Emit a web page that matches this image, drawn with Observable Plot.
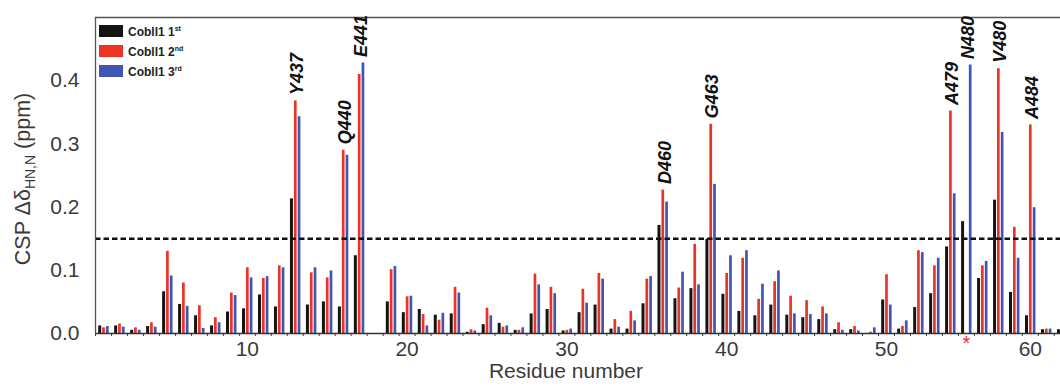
<!DOCTYPE html>
<html><head><meta charset="utf-8">
<script src="https://cdn.jsdelivr.net/npm/d3@7"></script>
<script src="https://cdn.jsdelivr.net/npm/@observablehq/plot@0.6"></script>
<style>
html,body{margin:0;padding:0;background:#fff;}
#chart svg{display:block;}
</style></head><body><div id="chart"></div>
<script>
// ---- data ----
const residues = d3.range(1, 62);
const cobll1_1st = [0.012,0.012,0.005,0.011,0.066,0.046,0.028,0.012,0.034,0.039,
  0.061,0.042,0.213,0.045,0.050,0.042,0.123,null,0.050,0.033,
  0.038,0.029,0.031,0.002,0.014,0.016,0.005,0.031,0.038,0.004,
  0.033,0.045,0.007,0.007,0.047,0.171,0.055,0.071,0.149,0.062,
  0.035,0.028,0.045,0.029,0.025,0.022,0.006,0.006,null,0.053,
  0.007,0.041,0.063,0.137,0.177,0.087,0.211,0.065,0.028,0.006,0.006];
const cobll1_2nd = [0.009,0.015,0.009,0.017,0.130,0.080,0.044,0.025,0.064,0.104,
  0.087,0.107,0.368,0.096,0.088,0.290,0.410,null,0.101,0.058,
  0.030,0.021,0.073,0.006,0.040,0.010,0.005,0.094,0.073,0.005,
  0.070,0.095,0.022,0.035,0.086,0.227,0.072,0.141,0.331,0.095,
  0.119,0.054,0.082,0.059,0.052,0.042,0.017,0.011,0.002,0.093,
  0.011,0.131,0.107,0.352,null,0.107,0.419,0.168,0.330,0.007,0.006];
const cobll1_3rd = [0.011,0.010,0.005,0.010,0.091,0.043,0.008,0.017,0.060,0.088,
  0.090,0.104,0.343,0.104,0.099,0.282,0.428,null,0.106,0.059,
  0.012,0.032,0.064,0.004,0.028,0.012,0.009,0.077,0.063,0.007,
  0.048,0.086,0.010,0.020,0.090,0.208,0.097,0.077,0.236,0.123,
  0.131,0.078,0.099,0.031,0.030,0.031,0.005,0.004,0.009,0.045,
  0.020,0.128,0.119,0.221,0.425,0.114,0.318,0.119,0.199,0.007,0.006];
const seriesBase = ["Cobll1 1", "Cobll1 2", "Cobll1 3"];
const seriesOrdinal = ["st", "nd", "rd"];
const seriesColors = ["#141414", "#ec3325", "#3f56b5"];
const threshold = [0.15];
const yTicks = [0, 0.1, 0.2, 0.3, 0.4];
const xTickPositions = [10, 20, 30, 40, 50, 59];
const xTickLabels = ["10", "20", "30", "40", "50", "60"];
const markedResidues = [55];
const peakResidues = [13, 16, 17, 36, 39, 54, 55, 57, 59];
const peakNames = ["Y437", "Q440", "E441", "D460", "G463", "A479", "N480", "V480", "A484"];

// ---- derived tables ----
const seriesValues = [cobll1_1st, cobll1_2nd, cobll1_3rd];
const rows = seriesValues.map(vals =>
  residues.map((r, i) => ({residue: r, value: vals[i]})).filter(d => d.value != null));
const peaks = peakResidues.map((r, i) => ({
  residue: r, name: peakNames[i],
  top: d3.max(seriesValues, v => v[r - 1] == null ? 0 : v[r - 1])
}));
const barOffsets = [-3.8, 0, 3.8];
const barWidths = [3, 2.7, 2.7];
const FONT = "'Liberation Sans', Arial, Helvetica, sans-serif";

const plot = Plot.plot({
  width: 1060, height: 387,
  marginLeft: 95, marginRight: 0, marginTop: 17, marginBottom: 54,
  style: {fontFamily: FONT, fontSize: "21px", color: "#3a3a3a", background: "#fff"},
  x: {domain: [0.5, 60.89], ticks: d3.range(0.5, 61, 1), tickSize: 3, tickFormat: () => "", label: null},
  y: {domain: [0, 0.5], ticks: yTicks, tickFormat: d3.format(".1f"), tickSize: 0, tickPadding: 16, label: null},
  marks: [
    ...rows.map((data, k) => Plot.ruleX(data, {
      x: "residue", y1: 0, y2: "value",
      stroke: seriesColors[k], strokeWidth: barWidths[k], dx: barOffsets[k]
    })),
    Plot.ruleY(threshold, {stroke: "#111", strokeWidth: 2.5, strokeDasharray: "5.5,3"}),
    Plot.ruleY([0], {stroke: "#333", strokeWidth: 1.3}),
    Plot.ruleY([0.5], {stroke: "#555", strokeWidth: 1.3}),
    Plot.ruleX([0.5], {stroke: "#555", strokeWidth: 1.3}),
    Plot.text(peaks, {
      x: "residue", y: "top", text: "name", rotate: -90, textAnchor: "start",
      dy: -6, dx: 2, fontStyle: "italic", fontWeight: "bold", fontSize: 18, fill: "#111"
    }),
    Plot.text(xTickPositions, {x: d => d, text: (d, i) => xTickLabels[i], frameAnchor: "bottom", dy: 22, fill: "#3a3a3a"}),
    Plot.text(["Residue number"], {text: d => d, frameAnchor: "bottom", dy: 44, dx: -12, fill: "#3a3a3a"}),
    Plot.text(markedResidues, {x: d => d, text: () => "*", frameAnchor: "bottom", dy: 16, fill: "#ec3325", fontSize: 20})
  ]
});
document.getElementById("chart").appendChild(plot);

// ---- in-plot legend and y-axis title with sub/superscripts ----
const svg = d3.select(plot);
const legend = svg.append("g")
  .attr("font-family", FONT).attr("font-weight", "bold").attr("font-size", 12)
  .attr("fill", "#222").attr("text-anchor", "start");
seriesBase.forEach((name, k) => {
  const gy = 25 + k * 20;
  legend.append("rect").attr("x", 99).attr("y", gy).attr("width", 24).attr("height", 12).attr("fill", seriesColors[k]);
  const t = legend.append("text").attr("x", 128).attr("y", gy + 10.5).attr("text-anchor", "start");
  t.append("tspan").text(name);
  t.append("tspan").attr("dy", -5).attr("font-size", 7).text(seriesOrdinal[k]);
});
const yl = svg.append("text")
  .attr("transform", "translate(30,179) rotate(-90)")
  .attr("text-anchor", "middle").attr("font-family", FONT).attr("font-size", 21.5).attr("fill", "#3a3a3a");
yl.append("tspan").text("CSP Δδ");
yl.append("tspan").attr("font-size", 14).attr("dy", 5).text("HN,N");
yl.append("tspan").attr("dy", -5).text(" (ppm)");
</script>
</body></html>
